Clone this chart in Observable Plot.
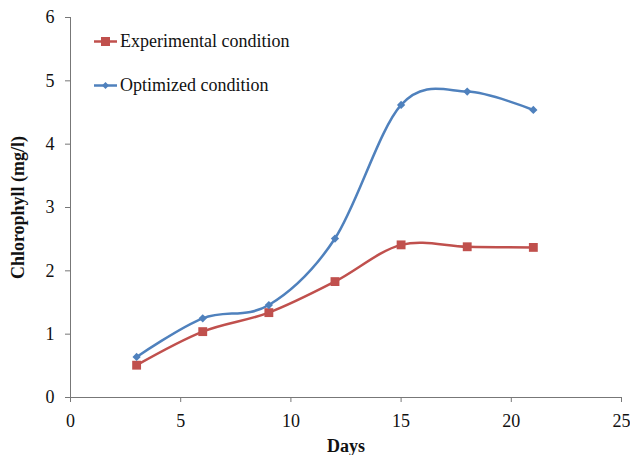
<!DOCTYPE html>
<html><head><meta charset="utf-8">
<script src="https://cdn.jsdelivr.net/npm/d3@7"></script>
<script src="https://cdn.jsdelivr.net/npm/@observablehq/plot@0.6"></script>
<style>
body{margin:0;background:#fff;}
#wrap{position:relative;width:630px;height:455px;font-family:"Liberation Serif","Times New Roman",serif;}
#wrap svg text{font-family:"Liberation Serif","Times New Roman",serif !important;font-variant-numeric:normal !important;}
.leg{position:absolute;left:93px;display:flex;align-items:center;font-size:18px;color:#111;}
.leg svg{margin-right:2px;}
</style></head>
<body><div id="wrap"></div>
<script>
const days = [3, 6, 9, 12, 15, 18, 21];
const experimental = [0.51, 1.04, 1.34, 1.83, 2.41, 2.38, 2.37];
const optimized = [0.64, 1.25, 1.46, 2.51, 4.62, 4.83, 4.54];
const xTicks = [0, 5, 10, 15, 20, 25];
const yTicks = [0, 1, 2, 3, 4, 5, 6];
const seriesNames = ["Experimental condition", "Optimized condition"];
const colors = ["#C0504D", "#4F81BD"];

const expData = days.map((d, i) => ({day: d, v: experimental[i]}));
const optData = days.map((d, i) => ({day: d, v: optimized[i]}));

const chart = Plot.plot({
  width: 630, height: 455,
  marginLeft: 70, marginRight: 9, marginTop: 17, marginBottom: 58,
  style: {fontFamily: "'Liberation Serif', 'Times New Roman', serif", fontSize: "18px", color: "#111"},
  x: {domain: [0, 25], ticks: xTicks, label: null},
  y: {domain: [0, 6], ticks: yTicks, label: null},
  marks: [
    Plot.axisX({ticks: xTicks, tickSize: 5, tickPadding: 12, stroke: "#777", label: null, tickFormat: "d", fontSize: 18}),
    Plot.axisY({ticks: yTicks, tickSize: 5, tickPadding: 11, stroke: "#777", label: null, tickFormat: "d", fontSize: 18}),
    Plot.ruleY([0], {stroke: "#777"}),
    Plot.ruleX([0], {stroke: "#777"}),
    Plot.line(expData, {x: "day", y: "v", stroke: colors[0], strokeWidth: 2.5, curve: "cardinal", tension: 0}),
    Plot.line(optData, {x: "day", y: "v", stroke: colors[1], strokeWidth: 2.5, curve: "cardinal", tension: 0}),
    Plot.dot(expData, {x: "day", y: "v", symbol: "square", fill: colors[0], r: 5}),
    Plot.dot(optData, {x: "day", y: "v", symbol: "square", rotate: 45, fill: colors[1], r: 3.3}),
    Plot.text(["Days"], {frameAnchor: "bottom", dy: 54, fontWeight: "bold", fontSize: 18}),
    Plot.text(["Chlorophyll (mg/l)"], {frameAnchor: "left", dx: -52, rotate: -90, textAnchor: "middle", fontWeight: "bold", fontSize: 18})
  ]
});
const wrap = document.getElementById("wrap");
wrap.appendChild(chart);

const legTops = [31, 75];
seriesNames.forEach((name, i) => {
  const div = document.createElement("div");
  div.className = "leg";
  div.style.top = legTops[i] + "px";
  const sym = i === 0
    ? `<rect x="8" y="6" width="9" height="9" fill="${colors[0]}"/>`
    : `<path d="M12.5 7 L16 10.5 L12.5 14 L9 10.5 Z" fill="${colors[1]}"/>`;
  div.innerHTML = `<svg width="25" height="21"><line x1="1" x2="24" y1="10.5" y2="10.5" stroke="${colors[i]}" stroke-width="2.5"/>${sym}</svg><span>${name}</span>`;
  wrap.appendChild(div);
});
</script></body></html>
